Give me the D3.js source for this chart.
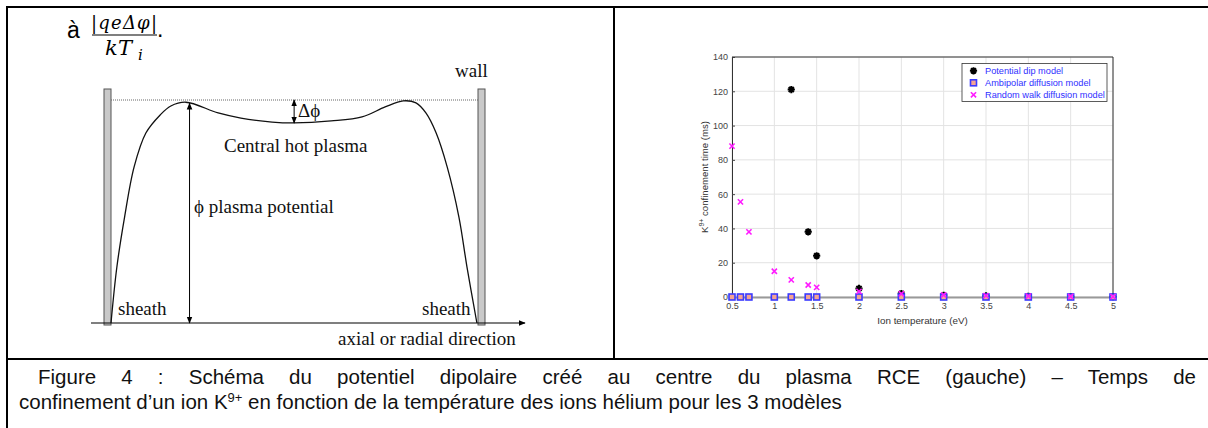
<!DOCTYPE html>
<html>
<head>
<meta charset="utf-8">
<script src="https://cdn.jsdelivr.net/npm/d3@7"></script>
<style>
    body { margin: 0; background: #fff; }
    svg text { font-family: "Liberation Sans", Arial, sans-serif; }
    .serif { font-family: "Liberation Serif", "Times New Roman", serif !important; }
    .math { font-family: "DejaVu Serif", serif !important; font-style: italic; }
</style>
</head>
<body>
<div id="figure"></div>
<script>

// ---- chart data (right panel) ----
const ionTemp = [0.5, 0.6, 0.7, 1, 1.2, 1.4, 1.5, 2, 2.5, 3, 3.5, 4, 4.5, 5];
const dipTemp = [1.2, 1.4, 1.5, 2, 2.5, 3, 3.5, 4, 4.5, 5];
const dipTime = [121, 38, 24, 5, 2, 1, 0.6, 0.4, 0.3, 0.2];
const ambipolarTime = [0, 0, 0, 0, 0, 0, 0, 0, 0, 0, 0, 0, 0, 0];
const randomWalkTime = [88, 55.5, 38, 15, 10, 7, 5.6, 3.3, 1.9, 1.2, 0.8, 0.5, 0.3, 0.2];
const xTicks = [0.5, 1, 1.5, 2, 2.5, 3, 3.5, 4, 4.5, 5];
const yTicks = [0, 20, 40, 60, 80, 100, 120, 140];
const legendLabels = ["Potential dip model", "Ambipolar diffusion model", "Random walk diffusion model"];

// ---- schematic profile (left panel), position 0..1 between walls, potential 0..1 ----
const profilePos = [0, 0.016, 0.037, 0.063, 0.095, 0.134, 0.163, 0.204, 0.292, 0.354, 0.439, 0.499,
    0.6, 0.684, 0.747, 0.796, 0.831, 0.858, 0.886, 0.916, 0.948, 0.97, 0.997];
const profilePot = [0, 0.251, 0.475, 0.70, 0.852, 0.933, 0.973, 0.99, 0.942, 0.919, 0.901, 0.897,
    0.906, 0.924, 0.969, 0.996, 0.987, 0.942, 0.852, 0.70, 0.475, 0.251, 0];

const captionLine1 = "Figure 4 : Schéma du potentiel dipolaire créé au centre du plasma RCE (gauche) – Temps de";
const captionLine2a = "confinement d’un ion K";
const captionLine2b = " en fonction de la température des ions hélium pour les 3 modèles";

const W = 1208, H = 428;

let svg = d3.select("#figure").append("svg")
    .attr("width", W)
    .attr("height", H);

svg.append("rect").attr("width", W).attr("height", H).attr("fill", "#fff");

// arrow head marker
let defs = svg.append("defs");
defs.append("marker")
    .attr("id", "arrow")
    .attr("viewBox", "0 0 10 10")
    .attr("refX", 9).attr("refY", 5)
    .attr("markerWidth", 7).attr("markerHeight", 7)
    .attr("markerUnits", "userSpaceOnUse")
    .attr("orient", "auto-start-reverse")
    .append("path")
    .attr("d", "M0,1 L10,5 L0,9 z")
    .attr("fill", "#000");

// ================= table frame =================
let frame = svg.append("g").attr("stroke", "#000").attr("stroke-width", 2);
frame.append("line").attr("x1", 6).attr("x2", W).attr("y1", 7).attr("y2", 7);
frame.append("line").attr("x1", 7).attr("x2", 7).attr("y1", 6).attr("y2", H);
frame.append("line").attr("x1", 614).attr("x2", 614).attr("y1", 6).attr("y2", 359);
frame.append("line").attr("x1", 6).attr("x2", W).attr("y1", 359).attr("y2", 359);

// ================= left panel: schematic =================
let left = svg.append("g").attr("class", "schematic");

// formula  à |qeΔφ| / kT_i .
left.append("text").attr("x", 67).attr("y", 38).attr("font-size", 23).text("à");
left.append("text").attr("class", "math")
    .attr("x", 91).attr("y", 29).attr("font-size", 18)
    .attr("textLength", 66).attr("lengthAdjust", "spacing")
    .text("|qeΔφ|");
left.append("line").attr("x1", 92).attr("x2", 157).attr("y1", 35).attr("y2", 35)
    .attr("stroke", "#000").attr("stroke-width", 1.2);
let den = left.append("text").attr("class", "math").attr("y", 55).attr("font-size", 21);
den.append("tspan").attr("x", 105).text("k");
den.append("tspan").attr("x", 118).text("T");
den.append("tspan").attr("x", 138).attr("y", 60).attr("font-size", 15).text("i");
left.append("text").attr("x", 157).attr("y", 37).attr("font-size", 23).text(".");

// scales for the schematic
let px = d3.scaleLinear().domain([0, 1]).range([111, 478]);
let py = d3.scaleLinear().domain([0, 1]).range([323, 100]);

// walls
[px(0) - 7, px(1)].forEach(x => {
    left.append("rect")
        .attr("x", x).attr("y", 89).attr("width", 7).attr("height", 236)
        .attr("fill", "#c9c9c9").attr("stroke", "#555").attr("stroke-width", 1);
});

// dotted reference level
left.append("line")
    .attr("x1", px(0)).attr("x2", px(1)).attr("y1", py(1)).attr("y2", py(1))
    .attr("stroke", "#666").attr("stroke-width", 1).attr("stroke-dasharray", "1,1");

// axis with arrow
left.append("line")
    .attr("x1", 91).attr("x2", 525).attr("y1", py(0)).attr("y2", py(0))
    .attr("stroke", "#000").attr("stroke-width", 1.2)
    .attr("marker-end", "url(#arrow)");

// potential profile
let profile = profilePos.map((p, i) => [p, profilePot[i]]);
let profileLine = d3.line()
    .x(d => px(d[0]))
    .y(d => py(d[1]))
    .curve(d3.curveCatmullRom.alpha(0.5));
left.append("path")
    .attr("d", profileLine(profile))
    .attr("fill", "none").attr("stroke", "#111").attr("stroke-width", 1.3);

// double arrows
function doubleArrow(x, y1, y2) {
    left.append("line")
        .attr("x1", x).attr("x2", x).attr("y1", y1).attr("y2", y2)
        .attr("stroke", "#000").attr("stroke-width", 1)
        .attr("marker-start", "url(#arrow)")
        .attr("marker-end", "url(#arrow)");
}
doubleArrow(px(0.214), py(0.99) + 1, py(0));
doubleArrow(px(0.499), py(1), py(0.897));

// labels
let serifLabels = [
    {t: "wall", x: 455, y: 77},
    {t: "Δϕ", x: 298, y: 117},
    {t: "Central hot plasma", x: 224, y: 152},
    {t: "ϕ plasma potential", x: 194, y: 213},
    {t: "sheath", x: 118, y: 315},
    {t: "sheath", x: 422, y: 315},
    {t: "axial or radial direction", x: 338, y: 345}
];
left.selectAll(".lbl").data(serifLabels).enter().append("text")
    .attr("class", "lbl serif")
    .attr("x", d => d.x).attr("y", d => d.y)
    .attr("font-size", 19).attr("fill", "#111")
    .text(d => d.t);

// ================= right panel: scatter chart =================
let margin = {left: 732, right: 1113, top: 57, bottom: 297};
let x = d3.scaleLinear().domain([0.5, 5]).range([margin.left, margin.right]);
let y = d3.scaleLinear().domain([0, 140]).range([margin.bottom, margin.top]);

let chart = svg.append("g").attr("class", "chart");

// grid
chart.append("g").selectAll("line").data(xTicks).enter().append("line")
    .attr("x1", d => x(d)).attr("x2", d => x(d))
    .attr("y1", y(0)).attr("y2", y(140))
    .attr("stroke", "#e3e3e3").attr("stroke-width", 1);
chart.append("g").selectAll("line").data(yTicks).enter().append("line")
    .attr("x1", x(0.5)).attr("x2", x(5))
    .attr("y1", d => y(d)).attr("y2", d => y(d))
    .attr("stroke", "#e3e3e3").attr("stroke-width", 1);

// axes
let xAxis = chart.append("g")
    .attr("transform", `translate(0,${y(0)})`)
    .call(d3.axisBottom(x).tickValues(xTicks).tickSize(-3).tickPadding(6).tickFormat(d3.format("")));
let yAxis = chart.append("g")
    .attr("transform", `translate(${x(0.5)},0)`)
    .call(d3.axisLeft(y).tickValues(yTicks).tickSize(-3).tickPadding(4));
[xAxis, yAxis].forEach(a => {
    a.selectAll("text").attr("font-size", 9).attr("fill", "#444")
        .style("font-family", "'Liberation Sans', Arial, sans-serif");
    a.selectAll(".tick line").attr("stroke", "#444");
});
xAxis.select(".domain").attr("stroke", "#999").attr("stroke-width", 2);
yAxis.select(".domain").attr("stroke", "#333");

// box (top and right)
chart.append("line").attr("x1", x(0.5)).attr("x2", x(5)).attr("y1", y(140)).attr("y2", y(140))
    .attr("stroke", "#333").attr("stroke-width", 1);
chart.append("line").attr("x1", x(5)).attr("x2", x(5)).attr("y1", y(140)).attr("y2", y(0))
    .attr("stroke", "#333").attr("stroke-width", 1);

// axis titles
chart.append("text")
    .attr("x", (x(0.5) + x(5)) / 2).attr("y", 324)
    .attr("text-anchor", "middle").attr("font-size", 9.8).attr("fill", "#333")
    .text("Ion temperature (eV)");
let yTitle = chart.append("text")
    .attr("transform", `translate(708,${(y(0) + y(140)) / 2}) rotate(-90)`)
    .attr("text-anchor", "middle").attr("font-size", 9.6).attr("fill", "#333");
yTitle.append("tspan").text("K");
yTitle.append("tspan").attr("font-size", 7).attr("dy", -4).text("9+");
yTitle.append("tspan").attr("dy", 4).text(" confinement time (ms)");

// marker shapes
function asterisk(r) {
    let d = "";
    for (let k = 0; k < 4; k++) {
        let a = k * Math.PI / 4;
        d += `M${-r * Math.cos(a)},${-r * Math.sin(a)}L${r * Math.cos(a)},${r * Math.sin(a)}`;
    }
    return d;
}
function cross(r) {
    return `M${-r},${-r}L${r},${r}M${-r},${r}L${r},${-r}`;
}

function drawDip(g, cx, cy) {
    g.append("path").attr("transform", `translate(${cx},${cy})`)
        .attr("d", asterisk(3.6)).attr("stroke", "#000").attr("stroke-width", 2).attr("fill", "none");
}
function drawSquare(g, cx, cy) {
    g.append("rect").attr("x", cx - 3).attr("y", cy - 3).attr("width", 6).attr("height", 6)
        .attr("fill", "#f3a394").attr("stroke", "#3a3aff").attr("stroke-width", 1.6);
}
function drawCross(g, cx, cy) {
    g.append("path").attr("transform", `translate(${cx},${cy})`)
        .attr("d", cross(2.6)).attr("stroke", "#ff1aff").attr("stroke-width", 1.6).attr("fill", "none");
}

let marks = chart.append("g");
dipTemp.forEach((t, i) => drawDip(marks, x(t), y(dipTime[i])));
ionTemp.forEach((t, i) => drawSquare(marks, x(t), y(ambipolarTime[i])));
ionTemp.forEach((t, i) => drawCross(marks, x(t), y(randomWalkTime[i])));

// legend
let legend = chart.append("g").attr("transform", "translate(962,63.5)");
legend.append("rect").attr("width", 145).attr("height", 38)
    .attr("fill", "#fff").attr("stroke", "#333").attr("stroke-width", 0.8);
let drawers = [drawDip, drawSquare, drawCross];
legendLabels.forEach((lab, i) => {
    drawers[i](legend, 11.5, 7.3 + i * 12);
    legend.append("text").attr("x", 23).attr("y", 10.6 + i * 12)
        .attr("font-size", 9.2).attr("fill", "#3030ff").text(lab);
});

// ================= caption =================
let cap1 = svg.append("text").attr("x", 38).attr("y", 384).attr("font-size", 20.5).attr("fill", "#111")
    .text(captionLine1);
// justify the first line up to the right edge of the cell
let natural = cap1.node().getComputedTextLength();
let spaces = captionLine1.split(" ").length - 1;
cap1.attr("word-spacing", (1196 - 38 - natural) / spaces);

let cap2 = svg.append("text").attr("x", 19).attr("y", 409).attr("font-size", 20.5).attr("fill", "#111");
cap2.append("tspan").text(captionLine2a);
cap2.append("tspan").attr("font-size", 13).attr("dy", -7).text("9+");
cap2.append("tspan").attr("dy", 7).text(captionLine2b);

</script>
</body>
</html>
